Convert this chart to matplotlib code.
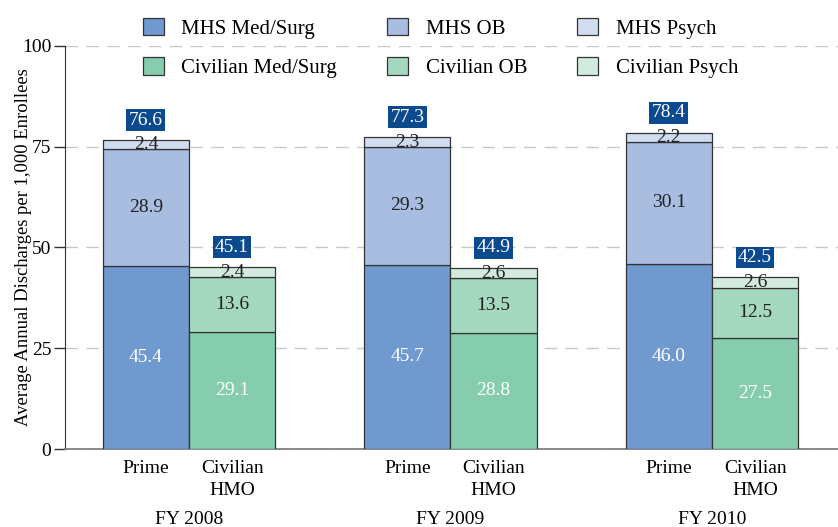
import numpy as np
import matplotlib.pyplot as plt
from matplotlib.patches import Patch

plt.rcParams['font.family'] = ['Liberation Serif', 'DejaVu Serif']

years = ["FY 2008", "FY 2009", "FY 2010"]
mhs_medsurg = [45.4, 45.7, 46.0]
mhs_ob = [28.9, 29.3, 30.1]
mhs_psych = [2.4, 2.3, 2.2]
civ_medsurg = [29.1, 28.8, 27.5]
civ_ob = [13.6, 13.5, 12.5]
civ_psych = [2.4, 2.6, 2.6]
mhs_total = [76.6, 77.3, 78.4]
civ_total = [45.1, 44.9, 42.5]

c_mhs = ["#6f99cf", "#a8bde0", "#d0dcf0"]
c_civ = ["#85cdad", "#a4d8bf", "#d3ebde"]
box_col = "#0b4a8e"
edge = "#333333"

fig = plt.figure(figsize=(8.38, 5.27), dpi=100)
ax = fig.add_axes([0.0776, 0.148, 0.9224, 0.765])

x = np.arange(len(years))
w = 0.33
xp = x - w / 2
xc = x + w / 2

def stack(xs, segs, cols, txtcols):
    bottom = np.zeros(len(xs))
    for vals, col, tc in zip(segs, cols, txtcols):
        vals = np.array(vals)
        ax.bar(xs, vals, w, bottom=bottom, color=col, edgecolor=edge,
               linewidth=0.9, zorder=3)
        for xi, b, v in zip(xs, bottom, vals):
            ax.text(xi, b + v / 2, f"{v:.1f}", ha="center", va="center",
                    color=tc, fontsize=14, zorder=4)
        bottom = bottom + vals

stack(xp, [mhs_medsurg, mhs_ob, mhs_psych], c_mhs, ["white", "#222222", "#222222"])
stack(xc, [civ_medsurg, civ_ob, civ_psych], c_civ, ["white", "#222222", "#222222"])

for xs, tots in [(xp, mhs_total), (xc, civ_total)]:
    for xi, t in zip(xs, tots):
        ax.text(xi, t + 5, f"{t:.1f}", ha="center", va="center", color="white",
                fontsize=14, zorder=5,
                bbox=dict(boxstyle="square,pad=0.12", fc=box_col, ec="none"))

ax.set_ylim(0, 100)
ax.set_xlim(-0.474, 2.482)
ax.set_yticks([0, 25, 50, 75, 100])
ax.tick_params(axis="y", labelsize=14, length=8, width=1, color="#333333", pad=2)
ax.yaxis.grid(True, color="#c8c8c8", linestyle=(0, (9, 6)), linewidth=1)
ax.set_axisbelow(True)
for s in ["top", "right"]:
    ax.spines[s].set_visible(False)
ax.spines["left"].set_color("#333333")
ax.spines["bottom"].set_color("#777777")
ax.spines["bottom"].set_linewidth(1.2)

ticks = list(xp) + list(xc)
labels = ["Prime"] * 3 + ["Civilian\nHMO"] * 3
ax.set_xticks(ticks)
ax.set_xticklabels(labels, fontsize=14, linespacing=1.35)
ax.tick_params(axis="x", length=0, pad=8)
for xi, yr in zip(x, years):
    ax.text(xi, -0.175, yr, transform=ax.get_xaxis_transform(), ha="center",
            va="center", fontsize=14)

ax.set_ylabel("Average Annual Discharges per 1,000 Enrollees", fontsize=13.4)
ax.yaxis.set_label_coords(-0.043, 0.5)

names = ["MHS Med/Surg", "Civilian Med/Surg", "MHS OB", "Civilian OB",
         "MHS Psych", "Civilian Psych"]
cols = [c_mhs[0], c_civ[0], c_mhs[1], c_civ[1], c_mhs[2], c_civ[2]]
handles = [Patch(facecolor=c, edgecolor=edge, linewidth=0.9) for c in cols]
fig.legend(handles, names, ncol=3, loc="upper left",
           bbox_to_anchor=(0.153, 0.994), frameon=False, fontsize=15,
           handlelength=1.0, handleheight=0.9, handletextpad=0.85,
           columnspacing=2.4, labelspacing=0.9, borderaxespad=0.3)

fig.savefig("out.png", dpi=100)
